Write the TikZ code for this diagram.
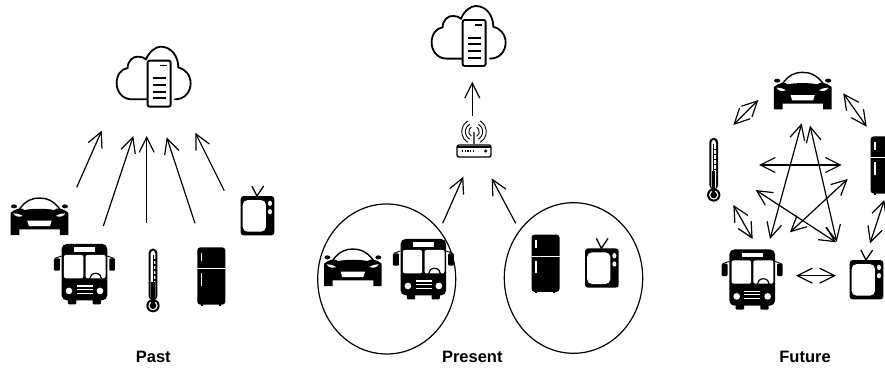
\documentclass[tikz,border=0pt]{standalone}
\usepackage{fontspec}
\setmainfont{Liberation Sans}
\usetikzlibrary{arrows.meta}
\tikzset{
  zoomed/.style={x=.3333pt,y=-.3333pt},
  barb/.tip={Straight Barb[length=15pt,width=15pt,line width=1.2pt]},
  link/.style={line width=1.2pt,-barb},
  both/.style={line width=1.2pt,barb-barb},
  caption/.style={font=\bfseries\fontsize{16.5}{18}\selectfont,inner sep=0pt},
  groupring/.style={draw,line width=1.2pt},
  cloudpic/.pic={
    \begin{scope}[zoomed]
    \draw[line width=1.8pt,line cap=round] (-20,58) -- (-65,58)
      .. controls (-92,58) and (-110,35) .. (-110,10)
      .. controls (-110,-15) and (-97,-33) .. (-77,-36)
      .. controls (-77,-58) and (-60,-72) .. (-45,-70)
      .. controls (-35,-70) and (-28,-67) .. (-22,-62)
      .. controls (-12,-86) and (8,-100) .. (22,-100)
      .. controls (55,-100) and (75,-70) .. (75,-38)
      .. controls (95,-33) and (112,-15) .. (112,10)
      .. controls (112,35) and (95,58) .. (65,58);
    \draw[line width=1.9pt,fill=white,rounded corners=2pt] (-17,-58) rectangle (52,80);
    \draw[line width=1.6pt] (20,-43) -- (42,-43);
    \foreach \yy in {-5,15,35,55} \draw[line width=1.8pt] (-2,\yy) -- (38,\yy);
    \end{scope}},
  carpic/.pic={
    \begin{scope}[zoomed]
    \draw[line width=1.4pt] (-60,-22) .. controls (-40,-50) and (-20,-56) .. (0,-56)
      .. controls (20,-56) and (42,-50) .. (62,-22);
    \fill (-86,-12) .. controls (-70,-26) and (-50,-28) .. (-45,-20)
      .. controls (-20,-25) and (20,-25) .. (45,-20)
      .. controls (50,-28) and (72,-26) .. (87,-12)
      -- (87,38) -- (87,55) -- (62,55) -- (62,38) -- (-60,38) -- (-60,55) -- (-86,55) -- cycle;
    \fill (-76,-31) ellipse (9 and 6);
    \fill (77,-31) ellipse (9 and 6);
    \fill[white] (-78,-10) .. controls (-65,-10) and (-55,-6) .. (-50,-2) .. controls (-62,2) and (-72,0) .. (-78,-10) -- cycle;
    \fill[white] (78,-10) .. controls (65,-10) and (55,-6) .. (50,-2) .. controls (62,2) and (72,0) .. (78,-10) -- cycle;
    \fill[white] (-36,12) -- (37,12) -- (32,28) -- (-31,28) -- cycle;
    \end{scope}},
  buspic/.pic={
    \begin{scope}[zoomed]
    \fill[rounded corners=5pt] (-68,-91) rectangle (69,78);
    \fill[rounded corners=1pt] (-49,70) rectangle (-24,90);
    \fill[rounded corners=1pt] (25,70) rectangle (50,90);
    \fill[rounded corners=1pt] (-91,-48) rectangle (-73,-11);
    \fill[rounded corners=1pt] (75,-48) rectangle (92,-11);
    \draw[line width=.9pt] (-88,-48) -- (-68,-55) (89,-48) -- (69,-55);
    \fill[white] (-31,-81) rectangle (32,-67);
    \fill[white,rounded corners=2pt] (-61,-58) rectangle (-3,12);
    \fill[white,rounded corners=2pt] (4,-58) rectangle (64,12);
    \draw[line width=1.2pt] (16,14) arc (180:360:18 and 17);
    \fill[white] (-46,50) circle (10);
    \fill[white] (47,50) circle (10);
    \foreach \yy in {35,45,57} \fill[white] (-23,\yy-2) rectangle (25,\yy+2);
    \end{scope}},
  thermpic/.pic={
    \begin{scope}[zoomed]
    \fill[rounded corners=4pt] (-13,-94) rectangle (13,60);
    \fill (0,77) circle (20);
    \fill[white,rounded corners=3pt] (-7,-88) rectangle (7,60);
    \fill[white] (0,77) circle (14);
    \fill (0,77) circle (10);
    \fill (-5,5) rectangle (5,70);
    \fill (-1.5,-75) rectangle (1.5,5);
    \foreach \yy in {-60,-45,-30,-15,0} \fill (0,\yy-2) rectangle (9,\yy+2);
    \end{scope}},
  fridgepic/.pic={
    \begin{scope}[zoomed]
    \fill[rounded corners=3pt] (-42,-86) rectangle (42,86);
    \fill (-31,82) rectangle (-25,90);
    \fill (22,82) rectangle (28,90);
    \fill[white] (-42,-23) rectangle (42,-20);
    \fill[white] (-31,-70) rectangle (-27,-45);
    \fill[white] (-31,-8) rectangle (-27,29);
    \end{scope}},
  tvpic/.pic={
    \begin{scope}[zoomed]
    \draw[line width=1.3pt] (-16,-74) -- (-1,-44) -- (19,-74);
    \fill[rounded corners=3pt] (-50,-44) rectangle (51,74);
    \fill[white,rounded corners=5pt] (-44,-32) rectangle (26,63);
    \fill[white] (38,-22) ellipse (6 and 8);
    \fill[white] (38,3) ellipse (6 and 8);
    \end{scope}},
  routerpic/.pic={
    \begin{scope}[zoomed]
    \draw[line width=1.3pt,rounded corners=2pt,fill=white] (-51,40) rectangle (51,76);
    \fill (-51,43) rectangle (51,50);
    \draw[line width=2pt,gray!70!black] (0,2) -- (0,40);
    \foreach \rr in {16,26,37} {
      \draw[line width=.9pt] (120:\rr) arc (120:240:\rr);
      \draw[line width=.9pt] (60:\rr) arc (60:-60:\rr);
    }
    \foreach \xx in {-34,-26,-18,-10,-2} \fill (\xx-2,56) rectangle (\xx+2,60);
    \fill (35,58) circle (5);
    \end{scope}}
}
\begin{document}
\begin{tikzpicture}[x=1pt,y=-1pt]
\useasboundingbox (0,0) rectangle (885,369);
\clip (0,0) rectangle (885,369);
% Past
\pic at (153.3,80) {cloudpic};
\pic at (39.3,216.7) {carpic};
\pic at (84.3,274.3) {buspic};
\pic at (153,280) {thermpic};
\pic at (211.3,276) {fridgepic};
\pic at (257.3,210.7) {tvpic};
\node[caption] (past) at (153.3,356.7) {Past};
\coordinate (a1) at (76.7,187.3); \coordinate (b1) at (101.7,130.7);
\coordinate (a2) at (103.3,226); \coordinate (b2) at (133.3,136);
\coordinate (a3) at (146.7,223.3); \coordinate (b3) at (146.7,136);
\coordinate (a4) at (195,223.3); \coordinate (b4) at (166.7,137.3);
\coordinate (a5) at (224.3,190.7); \coordinate (b5) at (195.3,132.7);
\foreach \i in {1,...,5} \draw[link] (a\i) -- (b\i);
% Present
\pic at (468.3,39.3) {cloudpic};
\pic at (474,131.7) {routerpic};
\draw[groupring] (386.7,279) ellipse (69 and 75);
\draw[groupring] (573.5,278) ellipse (69.2 and 75.3);
\pic at (352.7,267.7) {carpic};
\pic at (423.2,269.3) {buspic};
\pic at (545.5,263.2) {fridgepic};
\pic at (601.7,263) {tvpic};
\node[caption] (present) at (472.3,356.7) {Present};
\coordinate (c1) at (472.3,116); \coordinate (d1) at (472.3,81.7);
\coordinate (c2) at (442.7,223.3); \coordinate (d2) at (463.3,176.7);
\coordinate (c3) at (515.7,223.3); \coordinate (d3) at (491.7,178.3);
\foreach \i in {1,2,3} \draw[link] (c\i) -- (d\i);
% Future
\pic at (802.5,91) {carpic};
\pic at (713.7,169.3) {thermpic};
\pic at (752,279.7) {buspic};
\pic at (866.3,274.7) {tvpic};
\pic at (884.7,165) {fridgepic};
\node[caption] (future) at (805,357.3) {Future};
\coordinate (e1) at (733.3,125); \coordinate (f1) at (758.3,100);
\coordinate (e2) at (843.3,93.3); \coordinate (f2) at (866.7,126.7);
\coordinate (e3) at (733.3,205); \coordinate (f3) at (752.7,239);
\coordinate (e4) at (884.3,200); \coordinate (f4) at (870,243.3);
\coordinate (e5) at (796,275.7); \coordinate (f5) at (836,275.7);
\coordinate (e6) at (759,165); \coordinate (f6) at (841.7,165);
\coordinate (e7) at (801.7,123.3); \coordinate (f7) at (770,239);
\coordinate (e8) at (810,125.7); \coordinate (f8) at (836.7,241.7);
\coordinate (e9) at (755.7,190); \coordinate (f9) at (836,242.3);
\coordinate (e10) at (847.7,179); \coordinate (f10) at (790,232.3);
\foreach \i in {1,...,10} \draw[both] (e\i) -- (f\i);
\end{tikzpicture}
\end{document}
